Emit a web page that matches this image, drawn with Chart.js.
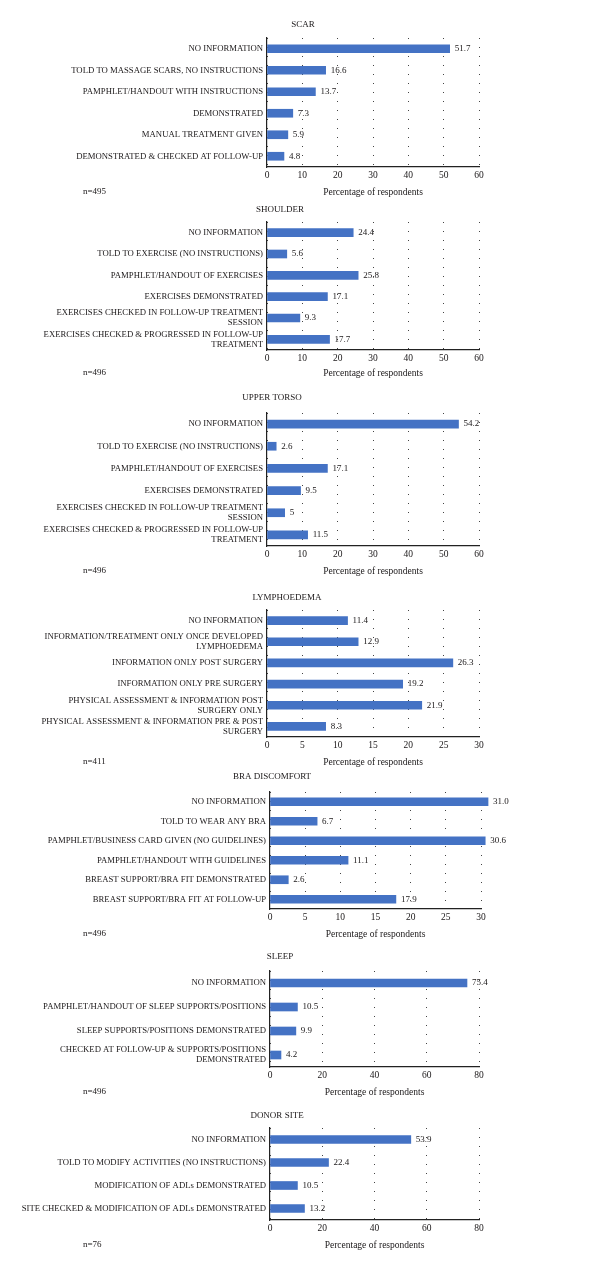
<!DOCTYPE html>
<html>
<head>
<meta charset="utf-8">
<script src="https://cdn.jsdelivr.net/npm/chart.js@4/dist/chart.umd.min.js"></script>
<style>
body { margin: 0; background: #fff; width: 600px; height: 1271px; position: relative; overflow: hidden; }
.panel { position: absolute; left: 0; width: 600px; }
</style>
</head>
<body>
<script>
// dati dei sette grafici
const scarLabels = [
    'NO INFORMATION',
    'TOLD TO MASSAGE SCARS, NO INSTRUCTIONS',
    'PAMPHLET/HANDOUT WITH INSTRUCTIONS',
    'DEMONSTRATED',
    'MANUAL TREATMENT GIVEN',
    'DEMONSTRATED & CHECKED AT FOLLOW-UP'
];
const scarValues = [51.7, 16.6, 13.7, 7.3, 5.9, 4.8];

const shoulderLabels = [
    'NO INFORMATION',
    'TOLD TO EXERCISE (NO INSTRUCTIONS)',
    'PAMPHLET/HANDOUT OF EXERCISES',
    'EXERCISES DEMONSTRATED',
    ['EXERCISES CHECKED IN FOLLOW-UP TREATMENT', 'SESSION'],
    ['EXERCISES CHECKED & PROGRESSED IN FOLLOW-UP', 'TREATMENT']
];
const shoulderValues = [24.4, 5.6, 25.8, 17.1, 9.3, 17.7];

const torsoLabels = shoulderLabels;
const torsoValues = [54.2, 2.6, 17.1, 9.5, 5, 11.5];

const lymphLabels = [
    'NO INFORMATION',
    ['INFORMATION/TREATMENT ONLY ONCE DEVELOPED', 'LYMPHOEDEMA'],
    'INFORMATION ONLY POST SURGERY',
    'INFORMATION ONLY PRE SURGERY',
    ['PHYSICAL ASSESSMENT & INFORMATION POST', 'SURGERY ONLY'],
    ['PHYSICAL ASSESSMENT & INFORMATION PRE & POST', 'SURGERY']
];
const lymphValues = [11.4, 12.9, 26.3, 19.2, 21.9, 8.3];

const braLabels = [
    'NO INFORMATION',
    'TOLD TO WEAR ANY BRA',
    'PAMPHLET/BUSINESS CARD GIVEN (NO GUIDELINES)',
    'PAMPHLET/HANDOUT WITH GUIDELINES',
    'BREAST SUPPORT/BRA FIT DEMONSTRATED',
    'BREAST SUPPORT/BRA FIT AT FOLLOW-UP'
];
const braValues = [31.0, 6.7, 30.6, 11.1, 2.6, 17.9];

const sleepLabels = [
    'NO INFORMATION',
    'PAMPHLET/HANDOUT OF SLEEP SUPPORTS/POSITIONS',
    'SLEEP SUPPORTS/POSITIONS DEMONSTRATED',
    ['CHECKED AT FOLLOW-UP & SUPPORTS/POSITIONS', 'DEMONSTRATED']
];
const sleepValues = [75.4, 10.5, 9.9, 4.2];

const donorLabels = [
    'NO INFORMATION',
    'TOLD TO MODIFY ACTIVITIES (NO INSTRUCTIONS)',
    'MODIFICATION OF ADLs DEMONSTRATED',
    'SITE CHECKED & MODIFICATION OF ADLs DEMONSTRATED'
];
const donorValues = [53.9, 22.4, 10.5, 13.2];

const titles = ['SCAR', 'SHOULDER', 'UPPER TORSO', 'LYMPHOEDEMA', 'BRA DISCOMFORT', 'SLEEP', 'DONOR SITE'];
const sampleSizes = ['n=495', 'n=496', 'n=496', 'n=411', 'n=496', 'n=496', 'n=76'];
const axisMax = [60, 60, 60, 30, 30, 80, 80];
const axisStep = [10, 10, 10, 5, 5, 20, 20];
const axisTitle = 'Percentage of respondents';

// posizioni dei pannelli nella pagina
const panels = [
    { labels: scarLabels, values: scarValues, titleX: 303, titleY: 25, top: 38, bottom: 167, left: 267, right: 479, gap: 25 },
    { labels: shoulderLabels, values: shoulderValues, titleX: 280, titleY: 210, top: 222, bottom: 350, left: 267, right: 479, gap: 23 },
    { labels: torsoLabels, values: torsoValues, titleX: 272, titleY: 398, top: 413, bottom: 546, left: 267, right: 479, gap: 25 },
    { labels: lymphLabels, values: lymphValues, titleX: 287, titleY: 598, top: 610, bottom: 737, left: 267, right: 479, gap: 25 },
    { labels: braLabels, values: braValues, titleX: 272, titleY: 777, top: 792, bottom: 909, left: 270, right: 481, gap: 25, fixed: true },
    { labels: sleepLabels, values: sleepValues, titleX: 280, titleY: 957, top: 971, bottom: 1067, left: 270, right: 479, gap: 25 },
    { labels: donorLabels, values: donorValues, titleX: 277, titleY: 1116, top: 1128, bottom: 1220, left: 270, right: 479, gap: 25 }
];

const fontFamily = '"Liberation Serif", "DejaVu Serif", serif';
const textColor = '#1a1718';
const barColor = '#4472C4';
const xAxisHeight = 35;

// titolo, n= ed etichette dei valori
const panelText = {
    id: 'panelText',
    afterDraw(chart, args, opts) {
        const ctx = chart.ctx;
        const area = chart.chartArea;
        ctx.save();
        ctx.fillStyle = textColor;
        ctx.font = '9px ' + fontFamily;
        ctx.textBaseline = 'middle';
        ctx.textAlign = 'center';
        ctx.fillText(opts.title, opts.titleX, opts.titleY);
        ctx.textAlign = 'left';
        ctx.fillText(opts.n, 83, area.bottom + opts.gap);

        const meta = chart.getDatasetMeta(0);
        const values = chart.data.datasets[0].data;
        meta.data.forEach((bar, i) => {
            const v = values[i];
            const text = opts.fixed ? v.toFixed(1) : String(v);
            ctx.fillText(text, bar.x + 5, bar.y);
        });
        ctx.restore();
    }
};

const renderPanel = (p, i) => {
    const wrap = document.createElement('div');
    wrap.className = 'panel';
    const panelTop = p.titleY - 10;
    wrap.style.top = panelTop + 'px';
    wrap.style.height = (p.bottom + xAxisHeight - panelTop) + 'px';
    const canvas = document.createElement('canvas');
    wrap.appendChild(canvas);
    document.body.appendChild(wrap);

    const data = {
        labels: p.labels,
        datasets: [{
            data: p.values,
            backgroundColor: barColor,
            borderWidth: 0,
            barThickness: 8,
            clip: false
        }]
    };

    const options = {
        indexAxis: 'y',
        responsive: true,
        maintainAspectRatio: false,
        animation: false,
        events: [],
        layout: {
            padding: { top: p.top - panelTop, right: 600 - p.right, bottom: 0, left: 0 }
        },
        plugins: {
            legend: { display: false },
            tooltip: { enabled: false },
            panelText: { title: titles[i], n: sampleSizes[i], titleX: p.titleX, titleY: p.titleY - panelTop, gap: p.gap, fixed: p.fixed }
        },
        scales: {
            x: {
                min: 0,
                max: axisMax[i],
                ticks: { stepSize: axisStep[i], padding: 3, color: textColor, font: { family: fontFamily, size: 9.5 } },
                grid: { color: '#444', lineWidth: 1, drawTicks: false },
                border: { display: true, color: '#222', width: 1.2, dash: [1, 8] },
                title: {
                    display: true,
                    text: axisTitle,
                    color: textColor,
                    font: { family: fontFamily, size: 9.5 },
                    padding: { top: 0, bottom: xAxisHeight - p.gap - 5.7 }
                },
                afterFit: scale => { scale.height = xAxisHeight; }
            },
            y: {
                ticks: { autoSkip: false, padding: 4, color: textColor, font: { family: fontFamily, size: 8.7, lineHeight: 1.15 } },
                grid: { display: false, drawTicks: false },
                border: { display: true, color: '#222', width: 1.2 },
                afterFit: scale => { scale.width = p.left; }
            }
        }
    };

    new Chart(canvas, { type: 'bar', data, options, plugins: [panelText] });
};

panels.forEach(renderPanel);
</script>
</body>
</html>
